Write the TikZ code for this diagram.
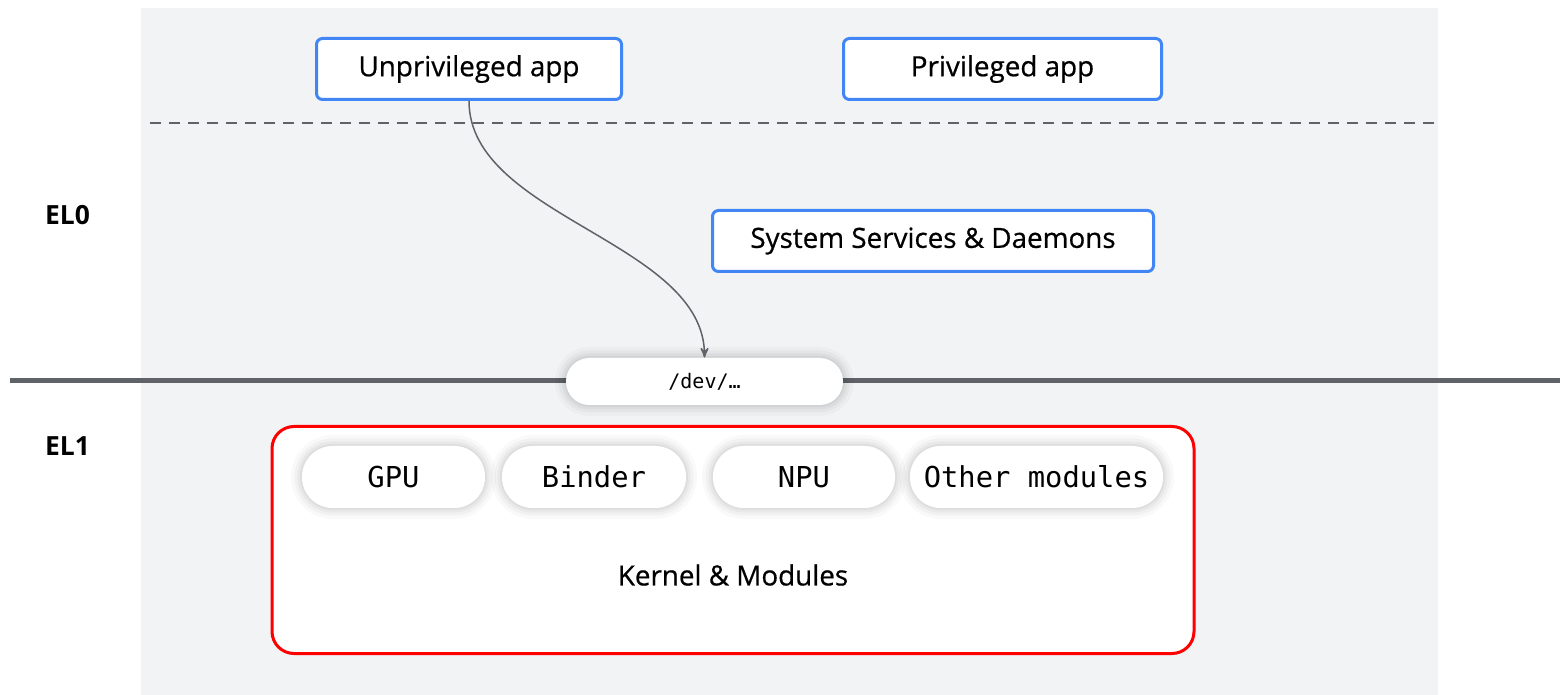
\documentclass[tikz,border=0pt]{standalone}
\usepackage{fontspec}
\setmainfont{Open Sans}
\newfontfamily\medfont{Open Sans}[FakeBold=0.6]
\newfontfamily\codefont{DejaVu Sans Mono}
\usetikzlibrary{arrows}
\definecolor{appblue}{HTML}{4285F4}
\definecolor{panelgray}{HTML}{F1F3F4}
\definecolor{rulegray}{HTML}{5F6368}
\definecolor{kernelred}{HTML}{FF0000}

\begin{document}
\begin{tikzpicture}[x=0.5pt, y=-0.5pt, >=stealth', appbox/.style={rectangle, rounded corners=3pt, draw=appblue, line width=1.5pt, fill=white, minimum height=30.5pt, inner sep=0pt, font=\medfont\fontsize{13.9}{16}\selectfont}, halo/.style={preaction={draw=black, draw opacity=0.025, line width=11pt}, preaction={draw=black, draw opacity=0.03, line width=7.5pt}, preaction={draw=black, draw opacity=0.035, line width=4.5pt}, preaction={draw=black, draw opacity=0.04, line width=2pt}}, pill/.style={rectangle, rounded corners=11.7pt, fill=white, halo, inner sep=0pt, minimum height=23.5pt, font=\codefont\fontsize{10}{12}\selectfont}, modpill/.style={rectangle, rounded corners=15.4pt, fill=white, halo, inner sep=0pt, minimum height=31pt, font=\codefont\fontsize{14.4}{17}\selectfont}, kernelbox/.style={rectangle, rounded corners=11pt, draw=kernelred, line width=1.5pt, fill=white, minimum width=461pt, minimum height=113.5pt}, level/.style={anchor=west, font=\bfseries\fontsize{13.2}{16}\selectfont}, flow/.style={->, draw=rulegray, line width=0.75pt}]
	 \useasboundingbox (0,0) rectangle (1560,695);
	 % panel and privilege boundaries
	 \fill[panelgray] (141,8) rectangle (1438,695);
	 \draw[rulegray, line width=1pt, dash pattern=on 5.5pt off 4pt] (150,123) -- (1438,123);
	 \draw[rulegray, line width=2.5pt] (10,381) -- (1560,381);
	 \node[level] (el0) at (38,215) {EL0};
	 \node[level] (el1) at (38,446) {EL1};
	 % user space
	 \node[appbox, minimum width=152.5pt] (unpriv) at (469,69) {Unprivileged app};
	 \node[appbox, minimum width=159pt] (priv) at (1002.5,69) {Privileged app};
	 \node[appbox, minimum width=220.5pt] (sysd) at (933,241) {System Services \& Daemons};
	 \node[pill, minimum width=138.5pt] (dev) at (704.5,381.5) {/dev/…};
	 % kernel
	 \node[kernelbox] (kernel) at (733,540) {};
	 \node[modpill, minimum width=91.5pt] (gpu) at (393.5,477) {GPU};
	 \node[modpill, minimum width=92pt] (binder) at (594,477) {Binder};
	 \node[modpill, minimum width=91pt] (npu) at (804,477) {NPU};
	 \node[modpill, minimum width=126.5pt] (other) at (1036.5,477) {Other modules};
	 \node[font=\medfont\fontsize{13.9}{16}\selectfont] (kernlabel) at (733,575) {Kernel \& Modules};
	 \draw[flow] (unpriv.south) .. controls +(0,116) and +(0,-116) .. (dev.north);
	\end{tikzpicture}
\end{document}
